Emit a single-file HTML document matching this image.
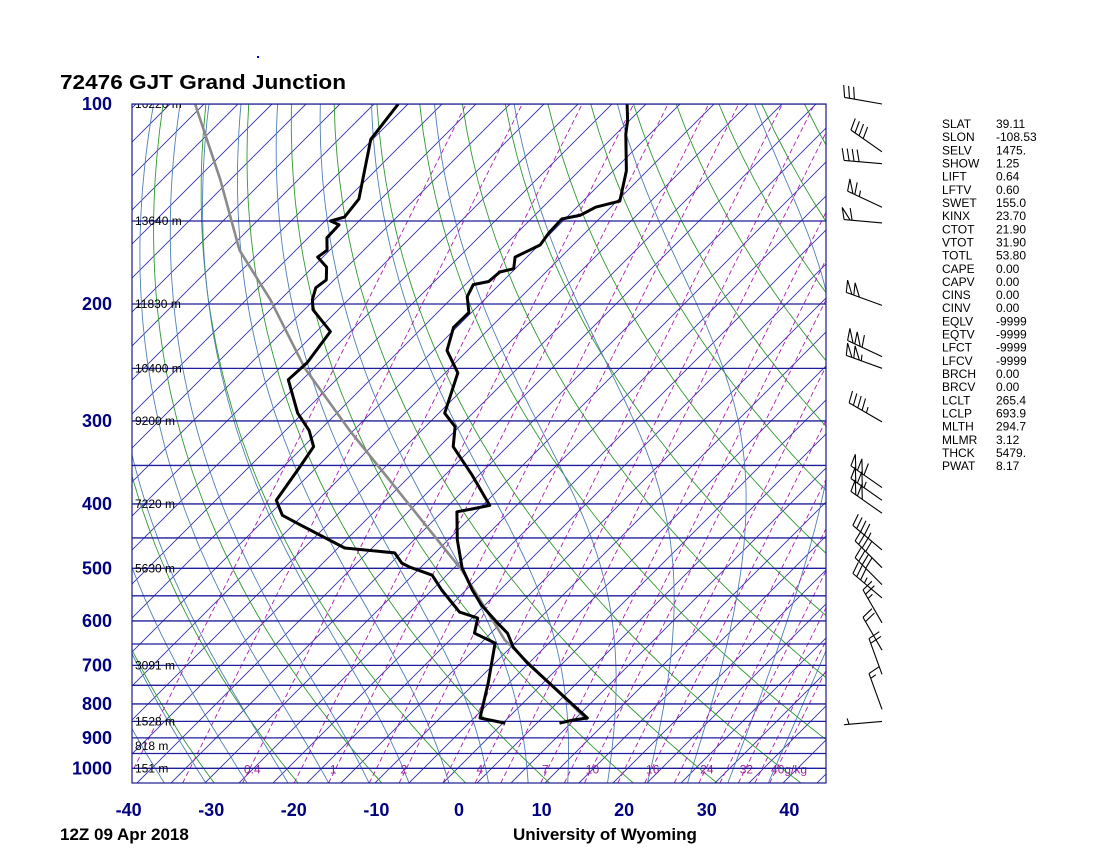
<!DOCTYPE html>
<html><head><meta charset="utf-8">
<style>
html,body{margin:0;padding:0;background:#fff;}
svg{display:block;font-family:"Liberation Sans",Arial,sans-serif;}
</style></head>
<body>
<svg id="chart" width="1101" height="865" viewBox="0 0 1101 865" xmlns="http://www.w3.org/2000/svg">
<defs><clipPath id="plotclip"><rect x="132" y="104" width="694" height="679"/></clipPath></defs>
<rect x="0" y="0" width="1101" height="865" fill="#fff"/>
<rect x="257" y="56" width="2" height="2" fill="#0000c0"/>
<text x="60" y="89" font-size="20" font-weight="bold" fill="#000" textLength="286" lengthAdjust="spacingAndGlyphs">72476 GJT Grand Junction</text>
<g id="grid" clip-path="url(#plotclip)"></g>
<g id="series" clip-path="url(#plotclip)"></g>
<rect x="132" y="104" width="694" height="679" fill="none" stroke="#1a1a8c" stroke-width="1.2"/>
<g id="labels"></g>
<g id="barbs"></g>
<g id="stats" font-size="12" fill="#000"></g>
<text x="60" y="840" font-size="17" font-weight="bold" fill="#000">12Z 09 Apr 2018</text>
<text x="513" y="840" font-size="17" font-weight="bold" fill="#000">University of Wyoming</text>
</svg>
<script>
// ---- data ----
const tempP=[100,106,111,126,140,143,147,149,156,163,166,170,177,179,185,187,195,206,217,235,254,292,306,328,362,402,407,411,453,499,539,568,604,626,657,694,840,846,855];
const tempT=[-82.4,-79.8,-78.0,-72.4,-68.6,-70.6,-71.2,-72.9,-72.4,-71.6,-72.1,-72.8,-71.2,-72.4,-72.3,-73.7,-72.6,-70.0,-69.6,-66.9,-62.2,-57.7,-54.4,-51.6,-45.0,-38.3,-39.9,-41.3,-37.0,-32.2,-27.6,-24.2,-19.6,-16.8,-14.0,-9.9,5.7,4.3,3.1];
const dewP=[100,113,139,148,150,152,159,166,170,176,184,189,197,204,220,245,260,292,310,328,352,395,416,430,466,474,491,498,512,539,582,594,626,648,744,840,855];
const dewT=[-110.1,-108.1,-100.5,-99.5,-100.6,-99.0,-98.5,-96.6,-96.7,-94.1,-92.2,-92.3,-90.9,-89.3,-83.9,-82.0,-81.7,-75.5,-71.5,-68.5,-67.1,-64.9,-61.9,-58.3,-49.4,-42.6,-40.2,-38.6,-34.7,-31.3,-25.8,-22.7,-20.8,-16.8,-11.6,-7.3,-3.5];
const parcelP=[100,130,166,197,250,310,503,641,846];
const parcelT=[-134.7,-120.2,-107.2,-96.0,-81.4,-66.6,-31.9,-16.1,6.0];
const barbP=[100,118,123,143,151,201,240,250,301,378,395,413,469,499,529,554,604,664,722,815,850];
const barbDir=[280,305,275,295,275,290,295,290,300,305,305,305,310,315,315,310,330,330,340,340,265];
const barbSpd=[30,40,40,65,60,100,110,105,45,110,105,100,45,40,40,35,25,20,20,15,5];
const pLabels=[100,200,300,400,500,600,700,800,900,1000];
const tLabels=[-40,-30,-20,-10,0,10,20,30,40];
const hgtP=[100,150,200,250,300,400,500,700,850,925,1000];
const hgtText=["16220 m","13640 m","11830 m","10400 m","9200 m","7220 m","5630 m","3091 m","1528 m","818 m","151 m"];
const mixW=[0.1,0.2,0.4,0.7,1,1.5,2,3,4,5,7,8.5,10,13,16,20,24,28,32,36,40];
const mixText=["","","0.4","","1","","2","","4","","7","","10","","16","","24","","32","","40g/kg"];
const statNames=["SLAT","SLON","SELV","SHOW","LIFT","LFTV","SWET","KINX","CTOT","VTOT","TOTL","CAPE","CAPV","CINS","CINV","EQLV","EQTV","LFCT","LFCV","BRCH","BRCV","LCLT","LCLP","MLTH","MLMR","THCK","PWAT"];
const statVals=["39.11","-108.53","1475.","1.25","0.64","0.60","155.0","23.70","21.90","31.90","53.80","0.00","0.00","0.00","0.00","-9999","-9999","-9999","-9999","0.00","0.00","265.4","693.9","294.7","3.12","5479.","8.17"];

// ---- axes ----
const NS="http://www.w3.org/2000/svg";
function yOf(p){return 104+288.5*Math.log(p/100);}
function xOf(T,p){return 459+8.26*T+1.25*(783-yOf(p));}
function mk(tag,parent){const e=document.createElementNS(NS,tag);parent.appendChild(e);return e;}
const grid=document.getElementById('grid');
const series=document.getElementById('series');
const labels=document.getElementById('labels');
const barbs=document.getElementById('barbs');
const stats=document.getElementById('stats');
function pathFrom(pts){return pts.map((q,i)=>(i?'L':'M')+q[0].toFixed(1)+' '+q[1].toFixed(1)).join(' ');}

// isotherms (45 degree skewed grid)
for(let c=478-34*8;c<=1620;c+=34){
  const l=mk('line',grid);
  
  
  l.setAttribute('x1',c-783);l.setAttribute('y1',783);
  l.setAttribute('x2',c-104);l.setAttribute('y2',104);
  l.setAttribute('stroke','#3434a8');l.setAttribute('stroke-width','0.9');
}
// dry adiabats
for(let th=200;th<=470;th+=10){
  const pts=[];
  for(let p=1060;p>=100;p-=10){pts.push([xOf(th*Math.pow(p/1000,0.286)-273.15,p),yOf(p)]);}
  const e=mk('path',grid);
  
  
  e.setAttribute('d',pathFrom(pts));e.setAttribute('fill','none');e.setAttribute('stroke','#2f9a2f');e.setAttribute('stroke-width','0.9');
}
// moist adiabats
function moistRate(T,p){const Tc=T-273.15;const es=6.112*Math.exp(17.67*Tc/(Tc+243.5));const rs=0.622*es/(p-es);
  return (287*T+2.5e6*rs)/(p*(1005+2.5e6*2.5e6*rs*0.622/(287*T*T)));}
for(let tw=-44;tw<=36;tw+=5){
  const up=[];let T=tw+273.15;
  for(let p=1000;p>=100;p-=5){up.push([xOf(T-273.15,p),yOf(p)]);T-=moistRate(T,p)*5;}
  const dn=[];T=tw+273.15;
  for(let p=1000;p<=1060;p+=5){dn.push([xOf(T-273.15,p),yOf(p)]);T+=moistRate(T,p)*5;}
  const pts=dn.reverse().concat(up);
  const e=mk('path',grid);
  
  
  e.setAttribute('d',pathFrom(pts));e.setAttribute('fill','none');e.setAttribute('stroke','#4f7fb8');e.setAttribute('stroke-width','0.9');
}
// mixing ratio lines
function tdOf(w,p){const e=w/1000*p/(0.622+w/1000);const a=Math.log(e/6.112);return 243.5*a/(17.67-a);}
mixW.forEach((w,i)=>{
  const xb=xOf(tdOf(w,1000),1000),yb=yOf(1000);
  const e=mk('line',grid);
  
  
  e.setAttribute('x1',xb-0.5*(783-yb));e.setAttribute('y1',783);
  e.setAttribute('x2',xb+0.5*(yb-104));e.setAttribute('y2',104);
  e.setAttribute('stroke','#b01cb0');e.setAttribute('stroke-width','0.9');e.setAttribute('stroke-dasharray','5,3');
  if(mixText[i]){
    const t=mk('text',grid);
    
    
    t.setAttribute('x',xb-6);t.setAttribute('y',yb+5);
    t.setAttribute('font-size','12');t.setAttribute('fill','#a020a0');
    t.textContent=mixText[i];
  }
});
// isobars
for(let p=100;p<=1000;p+=50){
  const l=mk('line',grid);
  
  
  l.setAttribute('x1',132);l.setAttribute('x2',826);l.setAttribute('y1',yOf(p));l.setAttribute('y2',yOf(p));
  l.setAttribute('stroke','#1e1e9c');l.setAttribute('stroke-width','1.3');
}
// height labels
hgtP.forEach((p,i)=>{
  const t=mk('text',grid);
  
  
  t.setAttribute('x',135);t.setAttribute('y',yOf(p)+4);t.setAttribute('font-size','12');t.setAttribute('fill','#000');
  t.textContent=hgtText[i];
});
// series
function line(P,T,name,color,w){
  const pts=P.map((p,i)=>[xOf(T[i],p),yOf(p)]);
  const e=mk('path',series);
  
  
  e.setAttribute('d',pathFrom(pts));e.setAttribute('fill','none');e.setAttribute('stroke',color);e.setAttribute('stroke-width',w);e.setAttribute('stroke-linejoin','round');
}
line(parcelP,parcelT,'parcel-path','#8a8a8a','2.6');
line(dewP,dewT,'dewpoint-line','#000','3');
line(tempP,tempT,'temperature-line','#000','3');
// axis labels
pLabels.forEach(p=>{
  const t=mk('text',labels);
  
  
  t.setAttribute('x',112);t.setAttribute('y',yOf(p)+6);t.setAttribute('text-anchor','end');t.setAttribute('font-size','18');t.setAttribute('font-weight','bold');t.setAttribute('fill','#000080');
  t.textContent=p;
});
tLabels.forEach(v=>{
  const t=mk('text',labels);
  
  
  t.setAttribute('x',459+8.26*v);t.setAttribute('y',816);t.setAttribute('text-anchor','middle');t.setAttribute('font-size','18');t.setAttribute('font-weight','bold');t.setAttribute('fill','#000080');
  t.textContent=v;
});
// wind barbs
barbP.forEach((p,i)=>{
  const bx=882,by=yOf(p),L=38,d=barbDir[i]*Math.PI/180;
  const ux=Math.sin(d),uy=-Math.cos(d);const px=-uy,py=ux;
  let s='M'+bx+' '+by.toFixed(1)+' L'+(bx+L*ux).toFixed(1)+' '+(by+L*uy).toFixed(1);
  let spd=Math.round(barbSpd[i]/5)*5;let pos=L;
  while(spd>=50){const ax=bx+pos*ux,ay=by+pos*uy;const bx2=bx+(pos-6)*ux,by2=by+(pos-6)*uy;
    s+=' M'+ax.toFixed(1)+' '+ay.toFixed(1)+' L'+(ax+12*px+3*ux).toFixed(1)+' '+(ay+12*py+3*uy).toFixed(1)+' L'+bx2.toFixed(1)+' '+by2.toFixed(1);
    pos-=8;spd-=50;}
  while(spd>=10){const ax=bx+pos*ux,ay=by+pos*uy;s+=' M'+ax.toFixed(1)+' '+ay.toFixed(1)+' L'+(ax+12*px+3*ux).toFixed(1)+' '+(ay+12*py+3*uy).toFixed(1);pos-=5;spd-=10;}
  if(spd>=5){if(pos===L)pos-=5;const ax=bx+pos*ux,ay=by+pos*uy;s+=' M'+ax.toFixed(1)+' '+ay.toFixed(1)+' L'+(ax+6*px+1.5*ux).toFixed(1)+' '+(ay+6*py+1.5*uy).toFixed(1);}
  const e=mk('path',barbs);
  
  
  e.setAttribute('d',s);e.setAttribute('fill','none');e.setAttribute('stroke','#000');e.setAttribute('stroke-width','1.1');
});
// stats
statNames.forEach((n,i)=>{
  const y=128+i*13.16;
  const a=mk('text',stats);
  
  
  a.setAttribute('x',942);a.setAttribute('y',y);a.textContent=n;
  const b=mk('text',stats);
  
  
  b.setAttribute('x',996);b.setAttribute('y',y);b.textContent=statVals[i];
});
</script>
</body></html>
